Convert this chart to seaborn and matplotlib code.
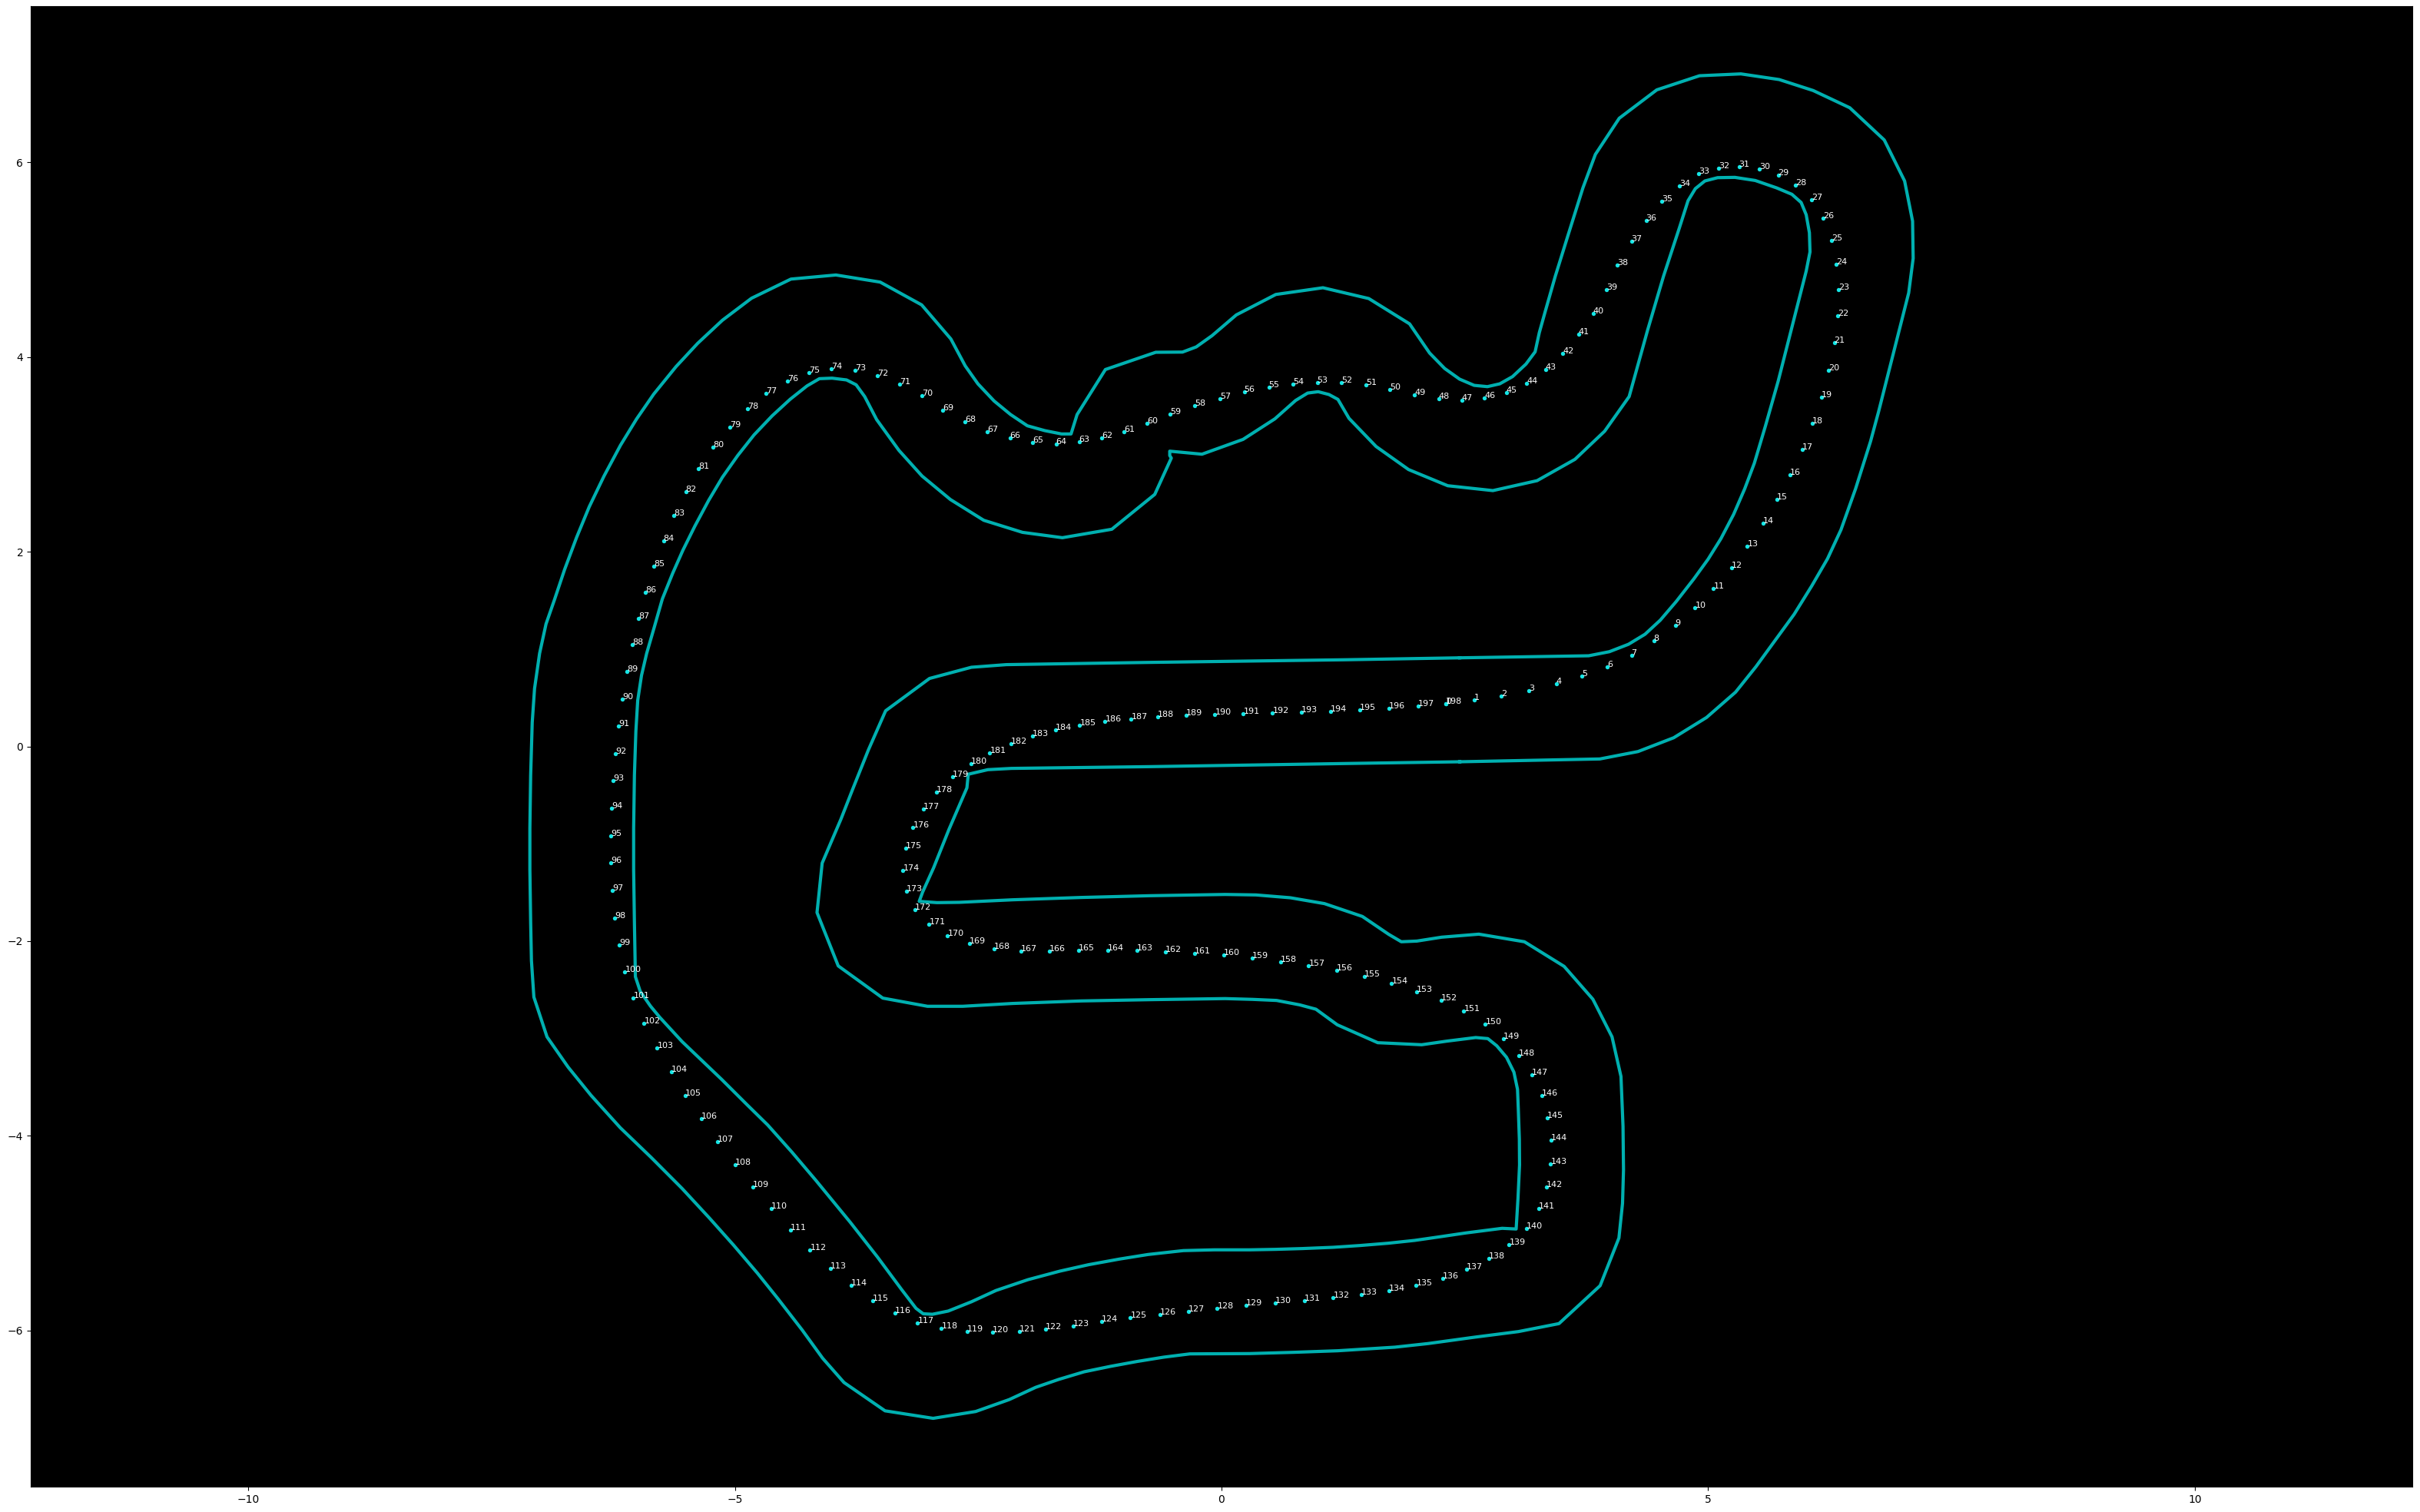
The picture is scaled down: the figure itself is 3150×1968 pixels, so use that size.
import matplotlib
matplotlib.use("Agg")
import matplotlib.pyplot as plt
import seaborn as sns

waypoints = [
 (2.306,0.440),(2.593,0.478),(2.876,0.518),(3.160,0.573),(3.438,0.644),(3.703,0.723),(3.962,0.818),(4.211,0.936),
 (4.440,1.086),(4.662,1.244),(4.865,1.426),(5.055,1.623),(5.238,1.836),(5.402,2.057),(5.562,2.294),(5.709,2.538),
 (5.843,2.791),(5.964,3.051),(6.072,3.320),(6.161,3.588),(6.239,3.865),(6.295,4.149),(6.334,4.425),(6.341,4.693),
 (6.318,4.954),(6.269,5.199),(6.184,5.427),(6.059,5.617),(5.899,5.767),(5.719,5.869),(5.523,5.933),(5.317,5.956),
 (5.110,5.940),(4.904,5.885),(4.708,5.759),(4.525,5.601),(4.361,5.404),(4.211,5.191),(4.067,4.946),(3.952,4.693),
 (3.818,4.449),(3.667,4.236),(3.507,4.038),(3.327,3.872),(3.137,3.730),(2.925,3.636),(2.702,3.580),(2.467,3.557),
 (2.230,3.573),(1.984,3.612),(1.732,3.667),(1.487,3.715),(1.235,3.738),(0.983,3.738),(0.738,3.723),(0.486,3.691),
 (0.234,3.644),(-0.018,3.573),(-0.273,3.502),(-0.525,3.415),(-0.764,3.320),(-1.000,3.233),(-1.229,3.170),(-1.464,3.131),
 (-1.700,3.107),(-1.939,3.123),(-2.174,3.170),(-2.404,3.233),(-2.633,3.336),(-2.862,3.454),(-3.081,3.604),(-3.310,3.723),
 (-3.539,3.810),(-3.768,3.865),(-4.008,3.881),(-4.237,3.841),(-4.462,3.754),(-4.677,3.628),(-4.871,3.470),(-5.054,3.281),
 (-5.224,3.075),(-5.372,2.855),(-5.505,2.618),(-5.625,2.373),(-5.734,2.113),(-5.830,1.852),(-5.918,1.584),(-5.988,1.315),
 (-6.051,1.047),(-6.106,0.772),(-6.153,0.485),(-6.193,0.210),(-6.225,-0.074),(-6.248,-0.352),(-6.264,-0.635),(-6.272,-0.919),
 (-6.272,-1.194),(-6.256,-1.478),(-6.232,-1.762),(-6.185,-2.040),(-6.130,-2.315),(-6.043,-2.584),(-5.932,-2.843),(-5.798,-3.097),
 (-5.652,-3.342),(-5.507,-3.586),(-5.345,-3.824),(-5.180,-4.062),(-4.997,-4.297),(-4.817,-4.527),(-4.627,-4.749),(-4.429,-4.968),
 (-4.228,-5.175),(-4.020,-5.364),(-3.805,-5.538),(-3.583,-5.696),(-3.358,-5.820),(-3.122,-5.926),(-2.878,-5.978),(-2.616,-6.010),
 (-2.356,-6.017),(-2.079,-6.010),(-1.810,-5.985),(-1.525,-5.954),(-1.235,-5.906),(-0.936,-5.867),(-0.633,-5.835),(-0.338,-5.804),
 (-0.044,-5.772),(0.255,-5.741),(0.554,-5.717),(0.853,-5.693),(1.148,-5.662),(1.438,-5.630),(1.723,-5.591),(2.000,-5.535),
 (2.271,-5.464),(2.516,-5.370),(2.747,-5.259),(2.955,-5.117),(3.132,-4.951),(3.259,-4.746),(3.341,-4.525),(3.381,-4.288),
 (3.388,-4.044),(3.349,-3.815),(3.288,-3.586),(3.191,-3.373),(3.057,-3.176),(2.899,-3.002),(2.710,-2.852),(2.489,-2.718),
 (2.260,-2.607),(2.007,-2.520),(1.747,-2.434),(1.470,-2.363),(1.186,-2.299),(0.895,-2.252),(0.605,-2.212),(0.312,-2.173),
 (0.023,-2.141),(-0.280,-2.125),(-0.579,-2.110),(-0.872,-2.094),(-1.171,-2.094),(-1.471,-2.094),(-1.770,-2.102),(-2.063,-2.102),
 (-2.338,-2.078),(-2.592,-2.023),(-2.814,-1.944),(-3.004,-1.825),(-3.152,-1.675),(-3.240,-1.486),(-3.272,-1.273),(-3.247,-1.044),
 (-3.170,-0.831),(-3.060,-0.642),(-2.926,-0.468),(-2.761,-0.310),(-2.577,-0.176),(-2.380,-0.065),(-2.165,0.029),(-1.940,0.108),
 (-1.704,0.171),(-1.457,0.219),(-1.196,0.258),(-0.928,0.282),(-0.653,0.306),(-0.361,0.321),(-0.068,0.329),(0.224,0.337),
 (0.524,0.345),(0.823,0.353),(1.122,0.361),(1.421,0.377),(1.721,0.392),(2.017,0.416),(2.306,0.440),
]

outer_border = [
 (2.447,-0.158),(3.887,-0.129),(4.279,-0.053),(4.646,0.089),(4.983,0.297),(5.281,0.557),(5.490,0.818),(5.883,1.357),
 (6.063,1.647),(6.226,1.928),(6.364,2.225),(6.514,2.646),(6.668,3.133),(6.750,3.436),(6.897,4.015),(7.060,4.659),
 (7.106,5.014),(7.100,5.396),(7.018,5.809),(6.809,6.230),(6.455,6.561),(6.079,6.738),(5.729,6.851),(5.336,6.909),
 (4.911,6.890),(4.472,6.745),(4.086,6.453),(3.841,6.082),(3.713,5.738),(3.560,5.251),(3.429,4.830),(3.324,4.462),
 (3.265,4.251),(3.222,4.054),(3.128,3.928),(2.990,3.799),(2.859,3.725),(2.732,3.696),(2.596,3.709),(2.446,3.773),
 (2.292,3.883),(2.138,4.041),(1.932,4.341),(1.513,4.601),(1.042,4.712),(0.558,4.643),(0.152,4.433),(-0.097,4.220),
 (-0.260,4.104),(-0.401,4.051),(-0.676,4.049),(-1.193,3.872),(-1.484,3.409),(-1.546,3.210),(-1.644,3.210),(-1.815,3.244),
 (-1.995,3.294),(-2.168,3.410),(-2.337,3.549),(-2.503,3.725),(-2.633,3.909),(-2.781,4.186),(-3.081,4.536),(-3.507,4.770),
 (-3.962,4.843),(-4.424,4.801),(-4.829,4.604),(-5.128,4.378),(-5.382,4.141),(-5.604,3.902),(-5.833,3.620),(-6.009,3.365),
 (-6.175,3.094),(-6.344,2.778),(-6.496,2.462),(-6.626,2.147),(-6.749,1.818),(-6.855,1.502),(-6.940,1.258),(-7.006,0.956),
 (-7.058,0.594),(-7.082,0.246),(-7.098,-0.297),(-7.106,-0.841),(-7.106,-1.264),(-7.098,-1.807),(-7.090,-2.200),(-7.065,-2.575),
 (-6.930,-2.984),(-6.713,-3.295),(-6.477,-3.586),(-6.177,-3.918),(-5.860,-4.223),(-5.543,-4.541),(-5.261,-4.846),(-5.014,-5.123),
 (-4.767,-5.413),(-4.556,-5.676),(-4.309,-5.995),(-4.098,-6.286),(-3.879,-6.535),(-3.457,-6.826),(-2.963,-6.903),(-2.526,-6.833),
 (-2.180,-6.710),(-1.910,-6.585),(-1.675,-6.504),(-1.412,-6.425),(-1.140,-6.369),(-0.868,-6.319),(-0.596,-6.275),(-0.325,-6.241),
 (0.287,-6.238),(0.740,-6.225),(1.193,-6.209),(1.782,-6.172),(2.122,-6.135),(2.597,-6.070),(3.050,-6.012),(3.467,-5.930),
 (3.890,-5.540),(4.083,-5.050),(4.120,-4.694),(4.130,-4.352),(4.125,-3.904),(4.104,-3.391),(4.012,-2.984),(3.815,-2.597),
 (3.520,-2.260),(3.112,-2.007),(2.644,-1.929),(2.262,-1.960),(2.007,-2.000),(1.847,-2.007),(1.718,-1.931),(1.447,-1.747),
 (1.057,-1.615),(0.707,-1.555),(0.354,-1.526),(0.037,-1.521),(-0.738,-1.534),(-1.443,-1.552),(-2.148,-1.576),(-2.694,-1.602),
 (-2.923,-1.605),(-3.106,-1.592),(-3.071,-1.497),(-2.958,-1.247),(-2.800,-0.852),(-2.616,-0.426),(-2.602,-0.286),(-2.401,-0.239),
 (-2.158,-0.226),(-0.738,-0.208),(1.264,-0.176),(2.447,-0.158),
]

inner_border = [
 (2.447,0.910),(3.772,0.931),(3.985,0.973),(4.181,1.049),(4.351,1.152),(4.508,1.297),(4.672,1.489),(4.852,1.720),
 (4.999,1.923),(5.130,2.133),(5.261,2.383),(5.375,2.646),(5.474,2.909),(5.588,3.291),(5.719,3.752),(5.866,4.330),
 (6.007,4.883),(6.046,5.080),(6.040,5.277),(6.007,5.462),(5.955,5.588),(5.860,5.672),(5.703,5.738),(5.483,5.814),
 (5.274,5.846),(5.097,5.843),(4.966,5.809),(4.868,5.730),(4.793,5.606),(4.705,5.330),(4.541,4.830),(4.378,4.278),
 (4.188,3.594),(3.936,3.238),(3.631,2.949),(3.242,2.730),(2.788,2.628),(2.324,2.678),(1.922,2.844),(1.588,3.081),
 (1.310,3.370),(1.196,3.565),(1.104,3.615),(0.993,3.644),(0.885,3.630),(0.761,3.554),(0.548,3.365),(0.221,3.154),
 (-0.201,3.002),(-0.532,3.033),(-0.532,2.988),(-0.516,2.962),(-0.686,2.589),(-1.127,2.231),(-1.635,2.144),(-2.045,2.199),
 (-2.443,2.323),(-2.785,2.536),(-3.077,2.778),(-3.314,3.041),(-3.543,3.357),(-3.666,3.594),(-3.754,3.715),(-3.853,3.765),
 (-4.001,3.783),(-4.131,3.778),(-4.258,3.704),(-4.431,3.567),(-4.617,3.396),(-4.804,3.199),(-4.970,2.989),(-5.128,2.765),
 (-5.269,2.528),(-5.410,2.265),(-5.534,2.015),(-5.639,1.778),(-5.745,1.515),(-5.827,1.228),(-5.906,0.956),(-5.959,0.730),
 (-5.998,0.473),(-6.017,0.156),(-6.032,-0.297),(-6.040,-0.841),(-6.040,-1.264),(-6.032,-1.807),(-6.022,-2.366),(-5.972,-2.517),
 (-5.867,-2.668),(-5.772,-2.783),(-5.543,-3.032),(-5.137,-3.420),(-4.873,-3.683),(-4.662,-3.890),(-4.415,-4.167),(-4.168,-4.458),
 (-3.816,-4.887),(-3.534,-5.247),(-3.287,-5.580),
 (-3.139,-5.773),(-3.065,-5.829),(-2.970,-5.834),(-2.808,-5.801),(-2.568,-5.705),(-2.318,-5.590),(-1.990,-5.479),(-1.661,-5.391),
 (-1.367,-5.325),(-1.049,-5.267),(-0.755,-5.220),(-0.393,-5.180),(-0.075,-5.172),(0.287,-5.172),(0.559,-5.167),(0.831,-5.159),
 (1.148,-5.146),(1.419,-5.128),(1.714,-5.104),(1.986,-5.075),(2.257,-5.036),(2.507,-4.999),(2.883,-4.951),(3.027,-4.958),
 (3.046,-4.641),(3.062,-4.299),(3.060,-4.036),(3.049,-3.720),(3.041,-3.523),(3.004,-3.347),(2.928,-3.194),(2.828,-3.076),
 (2.736,-3.002),(2.612,-2.991),(2.315,-3.028),(2.057,-3.065),(1.605,-3.044),(1.189,-2.860),(0.970,-2.700),(0.802,-2.655),
 (0.566,-2.610),(0.319,-2.599),(0.037,-2.591),(-0.738,-2.602),(-1.443,-2.615),(-2.148,-2.641),(-2.659,-2.670),(-3.021,-2.670),
 (-3.480,-2.586),(-3.938,-2.255),(-4.156,-1.707),(-4.103,-1.199),(-3.910,-0.747),(-3.786,-0.431),(-3.628,-0.036),(-3.451,0.366),
 (-3.000,0.698),(-2.570,0.813),(-2.211,0.840),(-0.738,0.863),(1.264,0.890),(2.447,0.910),
]

x_ticks = [-10, -5, 0, 5, 10]
y_ticks = [-6, -4, -2, 0, 2, 4, 6]

W, H = 3150, 1968
fig = plt.figure(figsize=(W / 100, H / 100), dpi=100)
ax = fig.add_axes([40 / W, 1 - 1935 / H, 3100 / W, 1927 / H])
ax.set_facecolor("black")

for border in (outer_border, inner_border):
    bx, by = zip(*border)
    sns.lineplot(x=list(bx), y=list(by), sort=False, estimator=None, color="#00b0b0",
                 linewidth=3, ax=ax, legend=False)

wx, wy = zip(*waypoints)
sns.scatterplot(x=list(wx), y=list(wy), color="#14e6e6", s=15, linewidth=0, ax=ax, legend=False, zorder=3)
for i, (px, py) in enumerate(waypoints):
    ax.annotate(str(i), (px, py), color="white", fontsize=8, zorder=4)

ax.set_xlim(-12.234, 12.234)
ax.set_ylim(-7.605, 7.605)
ax.set_aspect("equal", adjustable="box")
ax.set_xticks(x_ticks)
ax.set_yticks(y_ticks)
ax.grid(False)
fig.savefig("out.png", dpi=100, facecolor="white")
